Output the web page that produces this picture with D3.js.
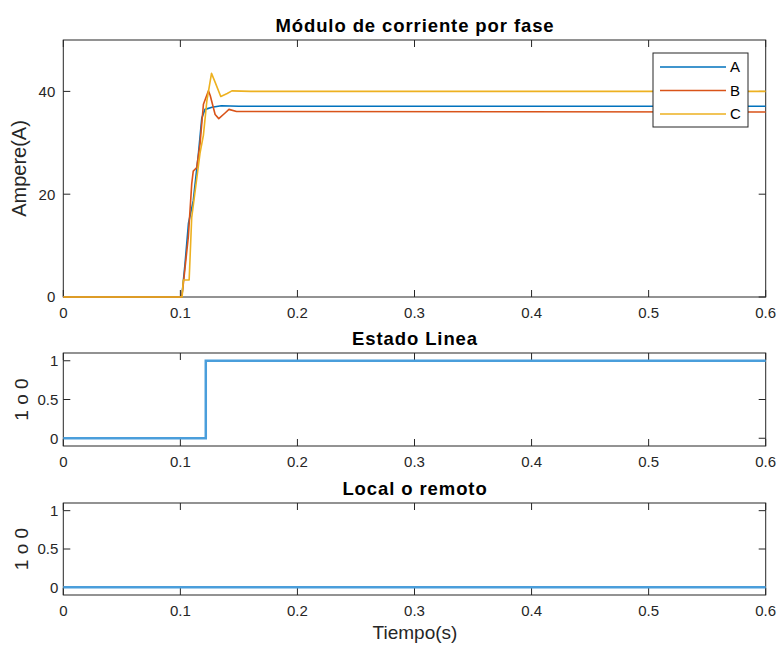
<!DOCTYPE html>
<html>
<head>
<meta charset="utf-8">
<script src="https://cdn.jsdelivr.net/npm/d3@7/dist/d3.min.js"></script>
<style>
  html, body { margin: 0; padding: 0; background: #fff; }
  svg { display: block; font-family: "Liberation Sans", Arial, Helvetica, sans-serif; }
</style>
</head>
<body>
<svg id="fig" width="781" height="645"></svg>
<script>
// Phase current magnitudes (A) versus time (s)
const phaseA_t = [0, 0.1012, 0.104, 0.1069, 0.111, 0.1154, 0.1183, 0.121, 0.1226, 0.127, 0.135, 0.15, 0.6];
const phaseA_v = [0, 0, 6.5, 14.3, 18.7, 27.8, 34.8, 36.5, 36.6, 36.9, 37.2, 37.1, 37.1];

const phaseB_t = [0, 0.1012, 0.1026, 0.1068, 0.1097, 0.111, 0.114, 0.1168, 0.1197, 0.124, 0.1255, 0.1297, 0.1328, 0.1382, 0.1415, 0.148, 0.6];
const phaseB_v = [0, 0, 2.7, 11.7, 22.0, 24.5, 25.2, 29.8, 37.5, 40.1, 39.2, 35.5, 34.7, 35.8, 36.5, 36.1, 36.0];

const phaseC_t = [0, 0.1015, 0.1025, 0.1075, 0.1097, 0.1168, 0.1197, 0.1226, 0.1266, 0.1300, 0.1345, 0.1400, 0.1440, 0.16, 0.6];
const phaseC_v = [0, 0, 3.3, 3.3, 15.5, 28.0, 31.5, 38.1, 43.5, 41.6, 39.0, 39.6, 40.1, 40.0, 40.0];

// Line state and local/remote flags (0 or 1)
const lineState_t = [0, 0.1217, 0.6];
const lineState_v = [0, 1, 1];
const localRemote_t = [0, 0.6];
const localRemote_v = [0, 0];

const xTicks = [0, 0.1, 0.2, 0.3, 0.4, 0.5, 0.6];
const currentTicks = [0, 20, 40];
const flagTicks = [0, 0.5, 1];
const seriesNames = ["A", "B", "C"];
const seriesColors = ["#0072BD", "#D95319", "#EDB120"];

const svg = d3.select("#fig");
svg.append("rect").attr("width", 781).attr("height", 645).attr("fill", "#fff");

const left = 63.3, right = 765.7;
const axisColor = "#262626";
const tickLen = 7;

function panel(top, bottom, yDomain, yTicks, title, ylabel, tickGap) {
  const x = d3.scaleLinear().domain([0, 0.6]).range([left, right]);
  const y = d3.scaleLinear().domain(yDomain).range([bottom, top]);
  const g = svg.append("g");

  // axes box
  g.append("rect")
    .attr("x", left).attr("y", top)
    .attr("width", right - left).attr("height", bottom - top)
    .attr("fill", "none").attr("stroke", axisColor).attr("stroke-width", 1);

  // x ticks (inside, bottom and top)
  xTicks.forEach(t => {
    g.append("line").attr("x1", x(t)).attr("x2", x(t)).attr("y1", bottom).attr("y2", bottom - tickLen)
      .attr("stroke", axisColor);
    g.append("line").attr("x1", x(t)).attr("x2", x(t)).attr("y1", top).attr("y2", top + tickLen)
      .attr("stroke", axisColor);
    g.append("text").attr("x", x(t)).attr("y", bottom + 21)
      .attr("text-anchor", "middle").attr("font-size", 15).attr("fill", axisColor)
      .text(d3.format("~g")(t));
  });

  // y ticks (inside, left and right)
  yTicks.forEach(v => {
    g.append("line").attr("x1", left).attr("x2", left + tickLen).attr("y1", y(v)).attr("y2", y(v))
      .attr("stroke", axisColor);
    g.append("line").attr("x1", right).attr("x2", right - tickLen).attr("y1", y(v)).attr("y2", y(v))
      .attr("stroke", axisColor);
    g.append("text").attr("x", left - tickGap).attr("y", y(v)).attr("dy", "0.36em")
      .attr("text-anchor", "end").attr("font-size", 15).attr("fill", axisColor)
      .text(d3.format("~g")(v));
  });

  g.append("text").attr("x", (left + right) / 2 + 0.5).attr("y", top - 8)
    .attr("text-anchor", "middle").attr("font-size", 18.5).attr("font-weight", "bold")
    .attr("letter-spacing", 0.9)
    .attr("fill", "#000").text(title);

  g.append("text")
    .attr("transform", `translate(${ylabel.x},${(top + bottom) / 2}) rotate(-90)`)
    .attr("text-anchor", "middle").attr("font-size", ylabel.size).attr("fill", axisColor)
    .text(ylabel.text);

  return { x, y, g };
}

// Current magnitude panel
const p1 = panel(40, 297, [0, 50], currentTicks, "Módulo de corriente por fase",
  { text: "Ampere(A)", x: 26, size: 20 }, 8);
const phases = [[phaseA_t, phaseA_v], [phaseB_t, phaseB_v], [phaseC_t, phaseC_v]];
phases.forEach(([ts, vs], i) => {
  const line = d3.line().x((d, j) => p1.x(ts[j])).y(d => p1.y(d));
  p1.g.append("path").datum(vs).attr("d", line)
    .attr("fill", "none").attr("stroke", seriesColors[i]).attr("stroke-width", 1.6)
    .attr("stroke-linejoin", "round");
});

// Legend
const lg = p1.g.append("g");
lg.append("rect").attr("x", 653).attr("y", 53).attr("width", 95).attr("height", 74)
  .attr("fill", "#fff").attr("stroke", axisColor).attr("stroke-width", 1);
seriesNames.forEach((name, i) => {
  const yy = 67 + i * 23.5;
  lg.append("line").attr("x1", 660).attr("x2", 726).attr("y1", yy).attr("y2", yy)
    .attr("stroke", seriesColors[i]).attr("stroke-width", 1.5);
  lg.append("text").attr("x", 730).attr("y", yy).attr("dy", "0.36em")
    .attr("font-size", 15).attr("fill", "#000").text(name);
});

// Line state panel
const p2 = panel(353, 446, [-0.1, 1.1], flagTicks, "Estado Linea",
  { text: "1 o 0", x: 28, size: 19 }, 5);
p2.g.append("path").datum(lineState_v)
  .attr("d", d3.line().curve(d3.curveStepAfter).x((d, j) => p2.x(lineState_t[j])).y(d => p2.y(d)))
  .attr("fill", "none").attr("stroke", "#4A9EDB").attr("stroke-width", 2.5);

// Local / remote panel
const p3 = panel(503, 595, [-0.1, 1.1], flagTicks, "Local o remoto",
  { text: "1 o 0", x: 28, size: 19 }, 5);
p3.g.append("path").datum(localRemote_v)
  .attr("d", d3.line().x((d, j) => p3.x(localRemote_t[j])).y(d => p3.y(d)))
  .attr("fill", "none").attr("stroke", "#4A9EDB").attr("stroke-width", 2.5);

svg.append("text").attr("x", 415).attr("y", 639)
  .attr("text-anchor", "middle").attr("font-size", 19).attr("fill", axisColor)
  .text("Tiempo(s)");
</script>
</body>
</html>
